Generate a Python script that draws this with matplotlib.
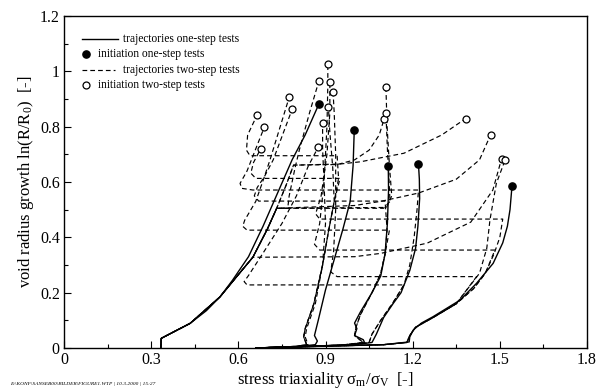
import matplotlib
matplotlib.use("Agg")
import matplotlib.pyplot as plt
from matplotlib.lines import Line2D
from matplotlib.ticker import MultipleLocator

plt.rcParams['font.family'] = ['Liberation Serif', 'DejaVu Serif']
plt.rcParams['mathtext.fontset'] = 'custom'
plt.rcParams['mathtext.rm'] = 'Liberation Serif'
plt.rcParams['mathtext.it'] = 'Liberation Serif:italic'

# ---------------- one-step tests (solid) ----------------
s1_x = [0.333, 0.335, 0.38, 0.434, 0.49, 0.537, 0.58, 0.635, 0.685, 0.735, 0.785, 0.83, 0.877]
s1_y = [0.0, 0.035, 0.06, 0.089, 0.135, 0.185, 0.245, 0.33, 0.44, 0.56, 0.68, 0.77, 0.881]
s2_x = [0.66, 0.80, 0.865, 0.872, 0.862, 0.875, 0.90, 0.93, 0.96, 0.985, 0.995, 0.999]
s2_y = [0.0, 0.005, 0.012, 0.025, 0.045, 0.10, 0.21, 0.32, 0.43, 0.53, 0.66, 0.788]
s3_x = [0.66, 0.95, 1.035, 1.03, 1.0, 1.008, 1.0, 1.02, 1.06, 1.09, 1.105, 1.113, 1.117, 1.116]
s3_y = [0.0, 0.01, 0.018, 0.03, 0.045, 0.07, 0.09, 0.13, 0.20, 0.26, 0.34, 0.45, 0.57, 0.659]
s4_x = [0.66, 1.0, 1.06, 1.075, 1.1, 1.133, 1.16, 1.19, 1.21, 1.218, 1.224, 1.223, 1.220]
s4_y = [0.0, 0.012, 0.02, 0.05, 0.11, 0.161, 0.20, 0.28, 0.36, 0.44, 0.54, 0.61, 0.664]
s5_x = [0.66, 1.10, 1.188, 1.19, 1.202, 1.23, 1.27, 1.363, 1.42, 1.477, 1.51, 1.526, 1.535, 1.542]
s5_y = [0.0, 0.012, 0.022, 0.04, 0.065, 0.09, 0.113, 0.173, 0.234, 0.306, 0.38, 0.44, 0.50, 0.587]
one_step_x = [s1_x, s2_x, s3_x, s4_x, s5_x]
one_step_y = [s1_y, s2_y, s3_y, s4_y, s5_y]

init1_x = [0.877, 0.999, 1.116, 1.220, 1.542]
init1_y = [0.881, 0.788, 0.659, 0.664, 0.587]

# ---------------- two-step tests (dashed) ----------------
# first step at eta = 1/3, then jump to higher triaxiality
tb1_x = [0.333, 0.335, 0.434, 0.537, 0.60, 0.65, 0.70, 0.732, 0.765, 0.79, 0.95, 1.02, 1.17, 1.30, 1.382]
tb1_y = [0.0, 0.035, 0.089, 0.185, 0.265, 0.328, 0.43, 0.505, 0.59, 0.661, 0.665, 0.673, 0.704, 0.77, 0.829]
tb2_x = [0.333, 0.335, 0.434, 0.537, 0.60, 0.65, 0.70, 0.732, 0.765, 0.79, 0.94, 1.0, 1.05, 1.085, 1.102]
tb2_y = [0.0, 0.035, 0.089, 0.185, 0.265, 0.328, 0.43, 0.505, 0.59, 0.661, 0.663, 0.68, 0.715, 0.77, 0.829]
tf1_x = [0.333, 0.335, 0.434, 0.537, 0.60, 0.65, 0.70, 0.732, 1.0, 1.09, 1.22, 1.35, 1.43, 1.468]
tf1_y = [0.0, 0.035, 0.089, 0.185, 0.265, 0.328, 0.43, 0.505, 0.515, 0.53, 0.56, 0.61, 0.68, 0.77]
tf2_x = [0.333, 0.335, 0.434, 0.537, 0.60, 0.65, 0.70, 0.732, 1.10, 1.122, 1.118, 1.113, 1.108]
tf2_y = [0.0, 0.035, 0.089, 0.185, 0.265, 0.328, 0.43, 0.505, 0.505, 0.53, 0.62, 0.72, 0.848]
tf3_x = [0.333, 0.335, 0.434, 0.537, 0.60, 0.65, 0.70, 0.732, 1.11, 1.128, 1.12, 1.112, 1.108]
tf3_y = [0.0, 0.035, 0.089, 0.185, 0.265, 0.328, 0.43, 0.505, 0.508, 0.55, 0.66, 0.80, 0.942]
tf4_x = [0.333, 0.335, 0.434, 0.537, 0.60, 0.65, 0.70, 0.732, 0.77, 0.775, 0.795, 0.81, 0.845, 0.877]
tf4_y = [0.0, 0.035, 0.089, 0.185, 0.265, 0.328, 0.43, 0.505, 0.505, 0.55, 0.65, 0.716, 0.85, 0.964]
tj1_x = [0.333, 0.335, 0.434, 0.537, 0.60, 0.65, 1.0, 1.09, 1.25, 1.40, 1.476, 1.506]
tj1_y = [0.0, 0.035, 0.089, 0.185, 0.265, 0.328, 0.33, 0.342, 0.379, 0.455, 0.571, 0.684]

# first step at high triaxiality (eta ~ 1.5), then jump to lower triaxiality
tk_x = [0.66, 1.10, 1.18, 1.19, 1.21, 1.27, 1.35, 1.42, 0.94, 0.918, 0.928, 0.935, 0.935, 0.93, 0.926]
tk_y = [0.0, 0.012, 0.02, 0.045, 0.075, 0.11, 0.16, 0.258, 0.258, 0.275, 0.35, 0.5, 0.7, 0.85, 0.925]
ti_x = [0.66, 1.10, 1.18, 1.19, 1.21, 1.27, 1.35, 1.41, 1.45, 1.483, 0.88, 0.862, 0.88, 0.895, 0.905, 0.908, 0.908]
ti_y = [0.0, 0.012, 0.02, 0.045, 0.075, 0.11, 0.16, 0.215, 0.27, 0.354, 0.354, 0.375, 0.45, 0.6, 0.8, 0.95, 1.025]
tg_x = [0.66, 1.10, 1.18, 1.19, 1.21, 1.27, 1.35, 1.41, 1.45, 1.48, 1.50, 1.51, 0.88, 0.866, 0.885, 0.905, 0.915, 0.915]
tg_y = [0.0, 0.012, 0.02, 0.045, 0.075, 0.11, 0.16, 0.215, 0.27, 0.34, 0.40, 0.466, 0.466, 0.485, 0.55, 0.7, 0.85, 0.962]
t19_x = [0.66, 1.10, 1.18, 1.19, 1.21, 1.27, 1.35, 1.43, 1.455, 1.466, 1.488, 1.518]
t19_y = [0.0, 0.012, 0.02, 0.045, 0.075, 0.11, 0.16, 0.27, 0.36, 0.463, 0.595, 0.679]

# first step at eta ~ 1.2, then jump to low triaxiality
td_x = [0.66, 1.0, 1.05, 1.06, 1.09, 1.13, 1.17, 1.19, 1.205, 1.215, 1.22, 0.65, 0.612, 0.606, 0.63, 0.66, 0.689]
td_y = [0.0, 0.012, 0.02, 0.05, 0.10, 0.16, 0.228, 0.30, 0.40, 0.50, 0.571, 0.571, 0.577, 0.595, 0.64, 0.72, 0.797]
tl_x = [0.66, 1.0, 1.05, 1.06, 1.09, 1.13, 1.17, 0.63, 0.62, 0.635, 0.685, 0.75, 0.80, 0.84, 0.875]
tl_y = [0.0, 0.012, 0.02, 0.05, 0.10, 0.16, 0.228, 0.228, 0.24, 0.262, 0.343, 0.45, 0.55, 0.656, 0.726]

# first step at eta ~ 1.1, then jump to low triaxiality
te_x = [0.66, 0.95, 1.03, 1.0, 1.005, 1.02, 1.06, 1.09, 1.105, 1.112, 1.105, 0.67, 0.655, 0.665, 0.69, 0.72, 0.786]
te_y = [0.0, 0.01, 0.02, 0.045, 0.075, 0.12, 0.20, 0.27, 0.34, 0.426, 0.531, 0.531, 0.55, 0.58, 0.62, 0.68, 0.865]
th_x = [0.66, 0.95, 1.03, 1.0, 1.005, 1.02, 1.06, 1.09, 1.105, 1.12, 0.63, 0.615, 0.622, 0.66, 0.69, 0.709, 0.775]
th_y = [0.0, 0.01, 0.02, 0.045, 0.075, 0.12, 0.20, 0.27, 0.34, 0.426, 0.426, 0.44, 0.462, 0.53, 0.62, 0.68, 0.906]

# first step at eta ~ 0.9
ta_x = [0.66, 0.80, 0.835, 0.825, 0.83, 0.86, 0.89, 0.91, 0.93, 0.945, 0.94, 0.64, 0.628, 0.632, 0.665]
ta_y = [0.0, 0.006, 0.012, 0.04, 0.07, 0.16, 0.30, 0.42, 0.53, 0.613, 0.695, 0.695, 0.715, 0.77, 0.843]
tc_x = [0.66, 0.80, 0.835, 0.825, 0.83, 0.86, 0.89, 0.91, 0.93, 0.95, 0.66, 0.643, 0.652, 0.677]
tc_y = [0.0, 0.006, 0.012, 0.04, 0.07, 0.16, 0.30, 0.42, 0.53, 0.613, 0.613, 0.632, 0.67, 0.72]
t10_x = [0.66, 0.80, 0.835, 0.825, 0.83, 0.86, 0.89, 0.91, 0.93, 0.925, 0.915, 0.91]
t10_y = [0.0, 0.006, 0.012, 0.04, 0.07, 0.16, 0.30, 0.42, 0.53, 0.65, 0.78, 0.872]
t11_x = [0.66, 0.80, 0.84, 0.83, 0.835, 0.865, 0.89, 0.90, 0.895, 0.89, 0.89]
t11_y = [0.0, 0.006, 0.012, 0.04, 0.07, 0.16, 0.30, 0.45, 0.60, 0.72, 0.812]

two_step_x = [tb1_x, tb2_x, tf1_x, tf2_x, tf3_x, tf4_x, tj1_x, tk_x, ti_x, tg_x, t19_x,
              td_x, tl_x, te_x, th_x, ta_x, tc_x, t10_x, t11_x]
two_step_y = [tb1_y, tb2_y, tf1_y, tf2_y, tf3_y, tf4_y, tj1_y, tk_y, ti_y, tg_y, t19_y,
              td_y, tl_y, te_y, th_y, ta_y, tc_y, t10_y, t11_y]

# ---------------- figure ----------------
fig = plt.figure(figsize=(5.96, 3.90), dpi=100)
ax = fig.add_axes([64 / 596, 42 / 390, 523 / 596, 332 / 390])

for i, (xs, ys) in enumerate(zip(two_step_x, two_step_y)):
    ax.plot(xs, ys, color='black', lw=0.85, linestyle=((i * 1.3) % 6, (4, 2.6)), zorder=2)
    ax.plot(xs[-1], ys[-1], 'o', ms=5, mfc='white', mec='black', mew=0.9, zorder=4)

for xs, ys in zip(one_step_x, one_step_y):
    ax.plot(xs, ys, color='black', lw=1.0, solid_joinstyle='round', zorder=3)
ax.plot(init1_x, init1_y, 'o', ms=5.2, color='black', linestyle='none', zorder=5)

ax.set_xlim(0, 1.8)
ax.set_ylim(0, 1.2)
ax.xaxis.set_major_locator(MultipleLocator(0.3))
ax.xaxis.set_minor_locator(MultipleLocator(0.15))
ax.yaxis.set_major_locator(MultipleLocator(0.2))
ax.yaxis.set_minor_locator(MultipleLocator(0.1))
ax.set_xticks([0, 0.3, 0.6, 0.9, 1.2, 1.5, 1.8])
ax.set_xticklabels(['0', '0.3', '0.6', '0.9', '1.2', '1.5', '1.8'])
ax.set_yticks([0, 0.2, 0.4, 0.6, 0.8, 1.0, 1.2])
ax.set_yticklabels(['0', '0.2', '0.4', '0.6', '0.8', '1', '1.2'])
ax.tick_params(which='both', direction='in', top=False, right=False, labelsize=11.5, pad=3)
ax.tick_params(which='major', length=5, width=0.8)
ax.tick_params(which='minor', length=3, width=0.8)
for sp in ax.spines.values():
    sp.set_linewidth(1.0)

ax.set_xlabel('stress triaxiality σ$_{\\rm m}$/σ$_{\\rm V}$  [-]', fontsize=12, labelpad=1)
ax.set_ylabel('void radius growth ln(R/R$_0$)  [-]', fontsize=12, labelpad=3)

# legend built by hand (as in the original layout)
def px2ax(px, py):
    return (px - 64) / 523, (348 - py) / 332

lx0, _ = px2ax(82, 0)
lx1, _ = px2ax(118, 0)
lxd, _ = px2ax(115, 0)
mx, _ = px2ax(86, 0)
tx1, _ = px2ax(123, 0)
tx2, _ = px2ax(98, 0)
rows = [px2ax(0, 39)[1], px2ax(0, 54)[1], px2ax(0, 70)[1], px2ax(0, 85)[1]]
ax.add_line(Line2D([lx0, lx1], [rows[0], rows[0]], transform=ax.transAxes, color='black', lw=1.0))
ax.plot([mx], [rows[1]], 'o', ms=5.2, color='black', transform=ax.transAxes)
ax.add_line(Line2D([lx0, lxd], [rows[2], rows[2]], transform=ax.transAxes, color='black', lw=0.85,
                   linestyle=(0, (4, 2.6))))
ax.plot([mx], [rows[3]], 'o', ms=5, mfc='white', mec='black', mew=0.9, transform=ax.transAxes)
leg_fs = 8.3
ax.text(tx1, rows[0], 'trajectories one-step tests', transform=ax.transAxes, va='center', fontsize=leg_fs)
ax.text(tx2, rows[1], 'initiation one-step tests', transform=ax.transAxes, va='center', fontsize=leg_fs)
ax.text(tx1, rows[2], 'trajectories two-step tests', transform=ax.transAxes, va='center', fontsize=leg_fs)
ax.text(tx2, rows[3], 'initiation two-step tests', transform=ax.transAxes, va='center', fontsize=leg_fs)

fig.text(10 / 596, 1 - 384 / 390, 'E:\\KONF\\SANSEB00\\BILDER\\FIGURE1.WTP | 10.3.2000 | 15:27',
         fontsize=3.9, style='italic', va='center', ha='left')

fig.savefig('out.png', dpi=100)
